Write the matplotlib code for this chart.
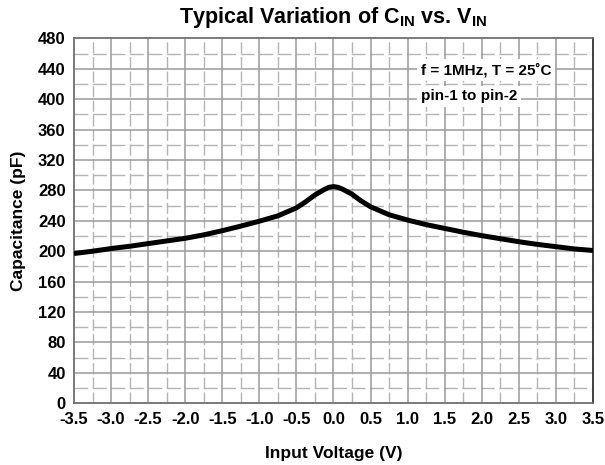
import matplotlib
matplotlib.use("Agg")
import matplotlib.pyplot as plt
import numpy as np

# input capacitance vs input voltage
volts = [-3.5, -3.25, -3.0, -2.75, -2.5, -2.25, -2.0, -1.75, -1.5, -1.25,
         -1.0, -0.75, -0.5, -0.375, -0.25, -0.125, -0.0625, 0.0, 0.0625, 0.125,
         0.25, 0.375, 0.5, 0.75, 1.0, 1.25, 1.5, 1.75, 2.0, 2.25, 2.5, 2.75,
         3.0, 3.25, 3.5]
cap_pf = [197, 200, 203.5, 206.5, 210, 213.5, 217, 221.5, 227, 233,
          239.5, 246.5, 257, 265, 274, 281, 284, 285, 284, 281.5,
          275, 266, 258.5, 248, 241, 235, 230, 225, 220.5, 216.5, 212.5, 209,
          206, 203, 201]

xticks = np.arange(-3.5, 3.51, 0.5)
yticks = np.arange(0, 481, 40)

plt.rcParams['font.family'] = ['Liberation Sans', 'DejaVu Sans']
plt.rcParams['font.weight'] = 'bold'
plt.rcParams['mathtext.fontset'] = 'custom'
plt.rcParams['mathtext.rm'] = 'Liberation Sans:bold'
plt.rcParams['mathtext.default'] = 'rm'

fig = plt.figure(figsize=(6.05, 4.65), dpi=100)
ax = fig.add_axes([0.1223, 0.1327, 0.8577, 0.7849])

# grid: solid major lines, dashed minor lines
for v in np.arange(-3.25, 3.5, 0.5):
    ax.axvline(v, color='#b4b4b4', lw=1.0, dashes=(8, 2.5), zorder=1)
for c in np.arange(20, 480, 40):
    ax.axhline(c, color='#b4b4b4', lw=1.0, dashes=(10, 3.3), zorder=1)
for v in xticks[1:-1]:
    ax.axvline(v, color='#9a9a9a', lw=1.1, zorder=1)
for c in yticks[1:-1]:
    ax.axhline(c, color='#9a9a9a', lw=1.1, zorder=1)

ax.plot(volts, cap_pf, color='black', lw=3.6, solid_joinstyle='round',
        solid_capstyle='butt', zorder=3)

ax.set_xlim(-3.5, 3.5)
ax.set_ylim(0, 480)
ax.set_xticks(xticks)
ax.set_xticklabels(['%.1f' % v for v in xticks])
ax.set_yticks(yticks)
ax.tick_params(length=0, labelsize=12, pad=6)
for s in ['left', 'bottom', 'top']:
    ax.spines[s].set_color('#707070')
    ax.spines[s].set_linewidth(1.3)
ax.spines['right'].set_color('#303030')
ax.spines['right'].set_linewidth(1.3)

ax.set_xlabel('Input Voltage (V)', fontsize=12.5, fontweight='bold', labelpad=14)
ax.set_ylabel('Capacitance (pF)', fontsize=12.5, fontweight='bold', labelpad=9)
ax.set_title(r'Typical Variation of C$_{IN}$ vs. V$_{IN}$', fontsize=15.5,
             fontweight='bold', pad=11)

box = dict(facecolor='white', edgecolor='none', pad=2.5)
ax.text(1.18, 438, 'f = 1MHz, T = 25\u02daC', fontsize=11, fontweight='bold',
        va='center', ha='left', bbox=box, zorder=4)
ax.text(1.18, 404, 'pin-1 to pin-2', fontsize=11, fontweight='bold',
        va='center', ha='left', bbox=box, zorder=4)

fig.savefig('out.png', dpi=100)
